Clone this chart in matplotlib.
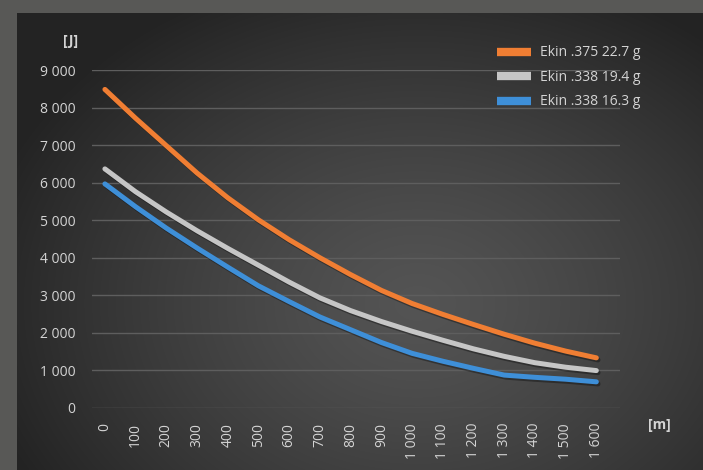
import numpy as np
import matplotlib
matplotlib.use("Agg")
import matplotlib.pyplot as plt
import matplotlib.patheffects as pe
from matplotlib.lines import Line2D

plt.rcParams['font.family'] = ['Open Sans', 'DejaVu Sans']

# distances en m
distances = [0, 100, 200, 300, 400, 500, 600, 700, 800, 900, 1000,
             1100, 1200, 1300, 1400, 1500, 1600]
labels_x = ["0", "100", "200", "300", "400", "500", "600", "700", "800", "900",
            "1 000", "1 100", "1 200", "1 300", "1 400", "1 500", "1 600"]

# energie cinetique en J
ekin_375_227 = [8490, 7720, 6990, 6260, 5600, 5010, 4480, 4000, 3550, 3130,
                2780, 2490, 2220, 1960, 1720, 1510, 1330]
ekin_338_194 = [6370, 5760, 5220, 4720, 4250, 3800, 3350, 2930, 2590, 2300,
                2040, 1800, 1570, 1370, 1200, 1080, 990]
ekin_338_163 = [5970, 5360, 4790, 4260, 3750, 3250, 2830, 2420, 2080, 1740,
                1450, 1240, 1050, 870, 810, 760, 690]

series = [("Ekin .375 22.7 g", ekin_375_227, "#F07E33"),
          ("Ekin .338 19.4 g", ekin_338_194, "#C6C6C6"),
          ("Ekin .338 16.3 g", ekin_338_163, "#3E8FD8")]

W, H = 703, 470
fig = plt.figure(figsize=(W / 100, H / 100), dpi=100)
fig.patch.set_facecolor("#585856")

# fond avec degrade radial
bg = fig.add_axes([17 / W, 0, (W - 17) / W, (H - 13) / H])
bg.set_axis_off()
yy, xx = np.mgrid[0:H - 13, 0:W - 17]
r = np.sqrt(((xx - 400) / 430.0) ** 2 + ((yy - 290) / 330.0) ** 2)
val = (84 - 46 * np.clip(r, 0, 1.2) ** 1.3) / 255.0
val = np.clip(val, 0.14, 1)
bg.imshow(np.dstack([val, val, val]), aspect="auto", interpolation="bilinear")

x = np.arange(len(distances))
ax = fig.add_axes([92 / W, (H - 407.7) / H, (620 - 92) / W, (407.7 - 70.3) / H])
ax.patch.set_alpha(0)

for nom, vals, col in series:
    ax.plot(x, vals, color=col, lw=3.6, solid_capstyle="round",
            path_effects=[pe.SimpleLineShadow(offset=(1.2, -1.5), alpha=0.35),
                          pe.Normal()])

ax.set_xlim(-0.42, 16.77)
ax.set_ylim(0, 9000)
ax.set_yticks(range(0, 9001, 1000))
ax.set_yticklabels(["0", "1 000", "2 000", "3 000", "4 000", "5 000",
                    "6 000", "7 000", "8 000", "9 000"])
ax.set_xticks(x)
ax.set_xticklabels(labels_x, rotation=90, va="top", ha="center")
ax.tick_params(length=0, colors="#d4d4d4", labelsize=10)
ax.tick_params(axis="y", pad=12)
ax.tick_params(axis="x", pad=11)
ax.grid(axis="y", color="#5e5e5e", lw=1)
ax.set_axisbelow(True)
for s in ax.spines.values():
    s.set_visible(False)

fig.text(71 / W, 1 - 41 / H, "[J]", color="#d4d4d4", fontsize=10,
         fontweight="bold", ha="center", va="center")
fig.text(659 / W, 1 - 425 / H, "[m]", color="#d4d4d4", fontsize=10,
         fontweight="bold", ha="center", va="center")

handles = [Line2D([], [], color=col, lw=6, solid_capstyle="butt") for _, _, col in series]
leg = fig.legend(handles, [s[0] for s in series], loc="upper left",
                 bbox_to_anchor=(484 / W, 1 - 33 / H), frameon=False,
                 fontsize=10, labelcolor="#d4d4d4", handlelength=2.5,
                 handletextpad=0.6, labelspacing=0.68)

fig.savefig("out.png", dpi=100)
